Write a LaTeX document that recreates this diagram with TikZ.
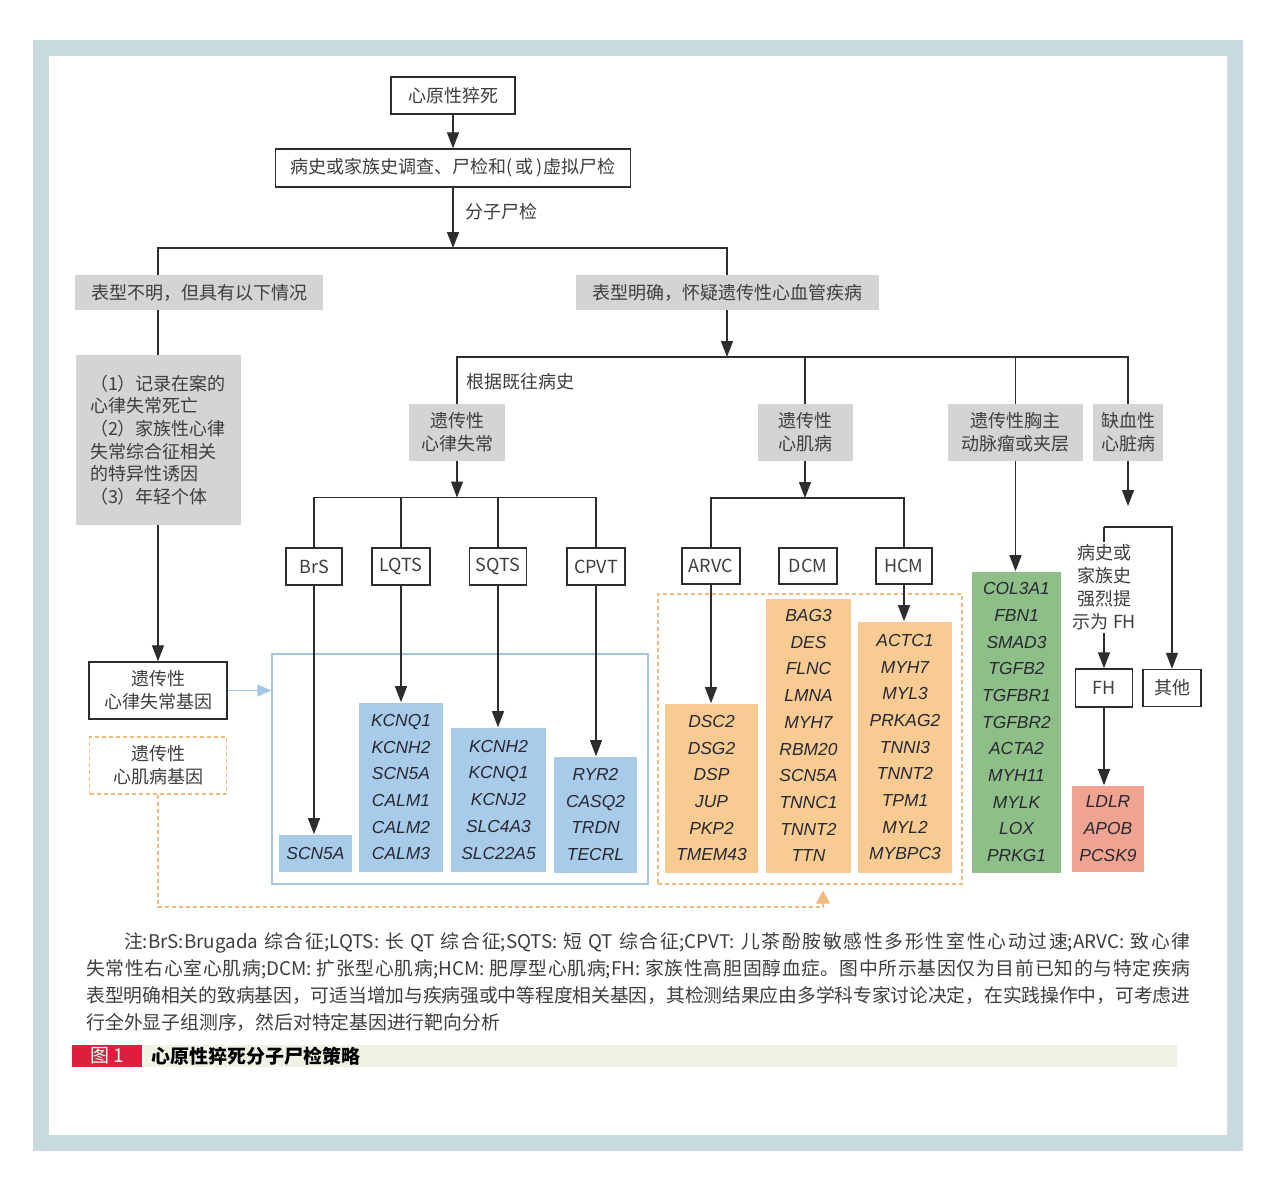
\documentclass[tikz,border=0pt]{standalone}
\usepackage{fontspec}
\setmainfont{Noto Sans CJK SC}
\newfontfamily\genefont{Liberation Sans}
\usepackage{xcolor}
\usepackage{tikz}
\usetikzlibrary{arrows.meta,positioning,calc}
\XeTeXlinebreaklocale "zh"
\XeTeXlinebreakskip=0pt plus 1pt minus 0.3pt
\definecolor{framegray}{RGB}{201,219,223}
\definecolor{linedark}{RGB}{45,45,45}
\definecolor{textdark}{RGB}{62,62,62}
\definecolor{boxgray}{RGB}{212,212,213}
\definecolor{geneblue}{RGB}{168,203,234}
\definecolor{frameblue}{RGB}{163,197,230}
\definecolor{geneorange}{RGB}{247,203,146}
\definecolor{dashorange}{RGB}{241,186,122}
\definecolor{genegreen}{RGB}{143,191,136}
\definecolor{genered}{RGB}{239,164,146}
\definecolor{genetext}{RGB}{40,40,50}
\definecolor{captionred}{RGB}{221,30,60}
\definecolor{captiongreen}{RGB}{238,243,228}
\tikzset{
  % --- flow boxes ------------------------------------------------------------
  flowbox/.style={
    rectangle, draw=linedark, line width=0.7pt, fill=white, align=center,
    inner sep=2pt, text=textdark, font=\fontsize{9}{11.5}\selectfont
  },
  phenobox/.style={
    rectangle, fill=boxgray, align=center, inner sep=2pt, text=textdark,
    font=\fontsize{9}{11.5}\selectfont
  },
  plainlabel/.style={inner sep=1pt, text=textdark, font=\fontsize{9}{11.5}\selectfont},
  % --- gene lists ------------------------------------------------------------
  genebox/.style={
    rectangle, align=center, inner sep=2pt, text=genetext,
    font=\genefont\fontsize{8.7}{13.35}\selectfont\itshape
  },
  arrgenes/.style={genebox, fill=geneblue},
  cmgenes/.style={genebox, fill=geneorange},
  aortagenes/.style={genebox, fill=genegreen},
  fhgenes/.style={genebox, fill=genered},
  blueframe/.style={rectangle, draw=frameblue, line width=0.6pt},
  orangeframe/.style={rectangle, draw=dashorange, line width=0.6pt, dash pattern=on 2pt off 1.5pt},
  % --- connectors ------------------------------------------------------------
  flowline/.style={draw=linedark, line width=0.65pt},
  flowarrow/.style={flowline, -{Triangle[length=8pt,width=6pt]}},
  bluearrow/.style={draw=frameblue, line width=0.6pt, -{Triangle[length=7pt,width=6pt]}},
  orangearrow/.style={draw=dashorange, line width=0.6pt, dash pattern=on 2pt off 1.5pt,
    -{Triangle[length=6.5pt,width=7pt]}},
  % --- notes and caption -----------------------------------------------------
  notetext/.style={
    text width=552pt, align=justify, inner sep=0pt, text=textdark,
    font=\fontsize{9.4}{13.5}\selectfont
  },
  captiontag/.style={fill=captionred, text=white, minimum width=35pt, minimum height=11pt,
    inner sep=0pt, font=\fontsize{9.5}{11}\selectfont},
  captionbar/.style={fill=captiongreen, text=black, minimum height=11pt, inner ysep=0pt,
    inner xsep=4pt, text width=509pt, align=left, font=\fontsize{9.5}{11}\selectfont\bfseries},
}

\begin{document}
\begin{tikzpicture}[x=0.5pt, y=-0.5pt]
    \useasboundingbox (0,0) rectangle (1270,1190);
    \fill[framegray] (33,40) rectangle (1243,1151);
    \fill[white] (49,56) rectangle (1227,1135);

    \node[flowbox, minimum width=62pt, minimum height=18.5pt] (death) at (453,95.5) {心原性猝死};
    \node[flowbox, minimum width=177.5pt, minimum height=19pt] (history) at (453,168) {病史或家族史调查、尸检和(\,或\,)虚拟尸检};
    \coordinate (splitmain) at (453,248);
    \coordinate (splitL) at (158,248);
    \coordinate (splitR) at (727,248);
    \node[phenobox, minimum width=124pt, minimum height=17.5pt] (unclear) at (199,292.5) {表型不明，但具有以下情况};
    \node[phenobox, minimum width=151.5pt, minimum height=17.5pt] (clear) at (727,292.5) {表型明确，怀疑遗传性心血管疾病};

    \draw[flowarrow] (death.south) -- (death.south |- history.north);
    \draw[flowarrow] (history.south) -- node[plainlabel, right=5pt, pos=0.4] (molecular) {分子尸检} (splitmain);
    \draw[flowline] (unclear.north -| splitL) -- (splitL) -- (splitR) -- (clear.north);

    \node[phenobox, minimum width=82.5pt, minimum height=85pt, align=left,
      font=\fontsize{9}{11.3}\selectfont] (crit) at (158,440)
      {（1）记录在案的\\心律失常死亡\\（2）家族性心律\\失常综合征相关\\的特异性诱因\\（3）年轻个体};
    \node[flowbox, minimum width=69pt, minimum height=28.5pt] (arrgenelist) at (158,690.5) {遗传性\\心律失常基因};
    \node[flowbox, draw=dashorange, line width=0.6pt, dash pattern=on 2pt off 1.5pt,
      minimum width=68.5pt, minimum height=28.5pt] (cmgenelist) at (158,765.5) {遗传性\\心肌病基因};
    \draw[flowline] (unclear.south -| splitL) -- (crit.north);
    \draw[flowarrow] (crit.south) -- (arrgenelist.north);

    \node[blueframe, minimum width=188pt, minimum height=115pt] (arrframe) at (460,769) {};
    \node[orangeframe, minimum width=152pt, minimum height=145pt] (cmframe) at (810,739) {};
    \draw[bluearrow] (arrgenelist.east) -- (arrgenelist.east -| arrframe.west);
    \coordinate (cmturn) at (823,907);
    \draw[orangearrow, shorten >=3pt] (cmgenelist.south) |- (cmturn) -- (cmturn |- cmframe.south);

    \coordinate (splitpheno) at (727,357);
    \draw[flowarrow] (clear.south) -- (splitpheno);
    \node[phenobox, minimum width=48pt, minimum height=28.5pt] (arrhythmia) at (457,432.5) {遗传性\\心律失常};
    \node[phenobox, minimum width=47.5pt, minimum height=28.5pt] (cardiomyo) at (805,432.5) {遗传性\\心肌病};
    \node[phenobox, minimum width=67.5pt, minimum height=28.5pt] (aorta) at (1015.5,432.5) {遗传性胸主\\动脉瘤或夹层};
    \node[phenobox, minimum width=35pt, minimum height=28.5pt] (ischemic) at (1128,432.5) {缺血性\\心脏病};
    \draw[flowline] (arrhythmia.north) -- (arrhythmia.north |- splitpheno) -- (ischemic.north |- splitpheno) -- (ischemic.north);
    \draw[flowline] (cardiomyo.north) -- (cardiomyo.north |- splitpheno);
    \draw[flowline] (aorta.north) -- (aorta.north |- splitpheno);
    \node[plainlabel, anchor=west] (pastlabel) at (464,382) {根据既往病史};

    \coordinate (arrsplit) at (457,497.5);
    \node[flowbox, minimum width=28pt, minimum height=18.5pt] (brs) at (314,566.5) {BrS};
    \node[flowbox, minimum width=29pt, minimum height=18.5pt] (lqts) at (401,566.5) {LQTS};
    \node[flowbox, minimum width=28.5pt, minimum height=18.5pt] (sqts) at (498,566.5) {SQTS};
    \node[flowbox, minimum width=29pt, minimum height=18.5pt] (cpvt) at (596,566.5) {CPVT};
    \draw[flowarrow] (arrhythmia.south) -- (arrsplit);
    \draw[flowline] (brs.north) |- (arrsplit) -| (cpvt.north);
    \draw[flowline] (lqts.north) -- (lqts.north |- arrsplit);
    \draw[flowline] (sqts.north) -- (sqts.north |- arrsplit);

    \node[arrgenes, anchor=south, minimum width=36.5pt, minimum height=18.5pt] (brsgenes) at (315.5,872) {SCN5A};
    \node[arrgenes, anchor=south, minimum width=42pt, minimum height=84.5pt] (lqtsgenes) at (401,872)
      {KCNQ1\\KCNH2\\SCN5A\\CALM1\\CALM2\\CALM3};
    \node[arrgenes, anchor=south, minimum width=47.5pt, minimum height=72pt] (sqtsgenes) at (498.5,872)
      {KCNH2\\KCNQ1\\KCNJ2\\SLC4A3\\SLC22A5};
    \node[arrgenes, anchor=south, minimum width=41.5pt, minimum height=58pt] (cpvtgenes) at (595.5,873)
      {RYR2\\CASQ2\\TRDN\\TECRL};
    \draw[flowarrow] (brs.south) -- (brs.south |- brsgenes.north);
    \draw[flowarrow] (lqts.south) -- (lqts.south |- lqtsgenes.north);
    \draw[flowarrow] (sqts.south) -- (sqts.south |- sqtsgenes.north);
    \draw[flowarrow] (cpvt.south) -- (cpvt.south |- cpvtgenes.north);

    \coordinate (cmsplit) at (805,498);
    \node[flowbox, minimum width=29pt, minimum height=18pt] (arvc) at (711,566) {ARVC};
    \node[flowbox, minimum width=29pt, minimum height=18pt] (dcm) at (808,566) {DCM};
    \node[flowbox, minimum width=28pt, minimum height=18pt] (hcm) at (904,566) {HCM};
    \draw[flowarrow] (cardiomyo.south) -- (cmsplit);
    \draw[flowline] (arvc.north) |- (cmsplit) -| (hcm.north);

    \node[cmgenes, anchor=south, minimum width=46.5pt, minimum height=84.5pt] (arvcgenes) at (711.5,873)
      {DSC2\\DSG2\\DSP\\JUP\\PKP2\\TMEM43};
    \node[cmgenes, anchor=south, minimum width=42.5pt, minimum height=137pt] (dcmgenes) at (808.5,873)
      {BAG3\\DES\\FLNC\\LMNA\\MYH7\\RBM20\\SCN5A\\TNNC1\\TNNT2\\TTN};
    \node[cmgenes, anchor=south, minimum width=47pt, minimum height=125.5pt] (hcmgenes) at (905,873)
      {ACTC1\\MYH7\\MYL3\\PRKAG2\\TNNI3\\TNNT2\\TPM1\\MYL2\\MYBPC3};
    \draw[flowarrow] (arvc.south) -- (arvc.south |- arvcgenes.north);
    \draw[flowarrow] (hcm.south) -- (hcm.south |- hcmgenes.north);

    \node[aortagenes, anchor=south, minimum width=44.5pt, minimum height=150.5pt] (aortagenelist) at (1016.5,873)
      {COL3A1\\FBN1\\SMAD3\\TGFB2\\TGFBR1\\TGFBR2\\ACTA2\\MYH11\\MYLK\\LOX\\PRKG1};
    \draw[flowarrow] (aorta.south) -- (aorta.south |- aortagenelist.north);

    \coordinate (ischend) at (1128,506);
    \coordinate (ischsplit) at (1104,527);
    \node[flowbox, minimum width=28.5pt, minimum height=19pt] (fh) at (1104,688) {FH};
    \node[flowbox, minimum width=29pt, minimum height=18.5pt] (other) at (1172,688) {其他};
    \draw[flowarrow] (ischemic.south) -- (ischend);
    \draw[flowarrow] (ischsplit) -- (fh.north);
    \draw[flowarrow] (ischsplit) -| (other.north);
    \node[plainlabel, fill=white, align=center, inner sep=1.5pt] (fhlabel) at (1104.5,587.5)
      {病史或\\家族史\\强烈提\\示为 FH};
    \node[fhgenes, anchor=south, minimum width=36pt, minimum height=43pt] (fhgenelist) at (1108,872)
      {LDLR\\APOB\\PCSK9};
    \draw[flowarrow] (fh.south) -- (fh.south |- fhgenelist.north);

    \node[notetext, anchor=north west] (notes) at (86,932)
      {\hspace*{2em}注:BrS:Brugada 综合征;LQTS: 长 QT 综合征;SQTS: 短 QT 综合征;CPVT: 儿茶酚胺敏感性多形性室性心动过速;ARVC: 致心律\linebreak
      失常性右心室心肌病;DCM: 扩张型心肌病;HCM: 肥厚型心肌病;FH: 家族性高胆固醇血症。图中所示基因仅为目前已知的与特定疾病\linebreak
      表型明确相关的致病基因，可适当增加与疾病强或中等程度相关基因，其检测结果应由多学科专家讨论决定，在实践操作中，可考虑进\linebreak
      行全外显子组测序，然后对特定基因进行靶向分析};
    \node[captiontag, anchor=west] (figtag) at (72,1056) {图 1};
    \node[captionbar, anchor=west] (figtitle) at (figtag.east) {心原性猝死分子尸检策略};
\end{tikzpicture}
\end{document}
